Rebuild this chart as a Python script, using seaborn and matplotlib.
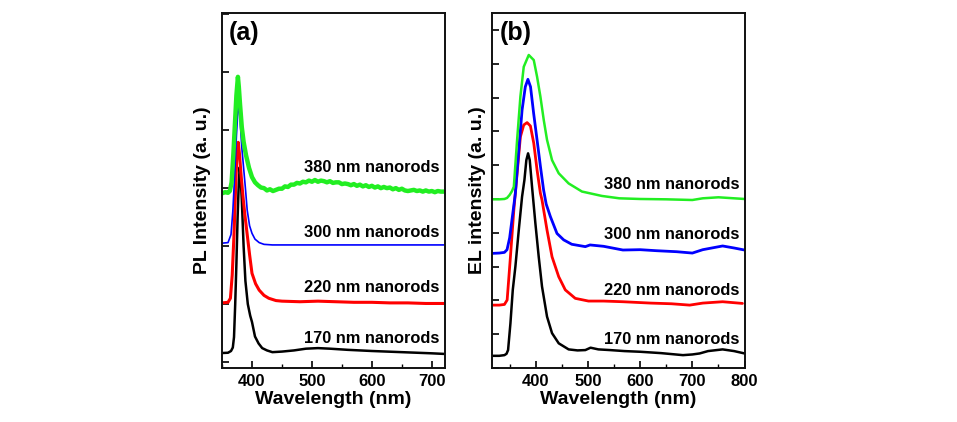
import matplotlib
matplotlib.use("Agg")
import matplotlib.pyplot as plt
import seaborn as sns
from matplotlib.ticker import MultipleLocator

sns.set_style("ticks")
plt.rcParams['font.family'] = ['Liberation Sans', 'DejaVu Sans']
plt.rcParams['font.weight'] = 'bold'
plt.rcParams['text.color'] = 'black'
plt.rcParams['axes.labelcolor'] = 'black'
plt.rcParams['xtick.color'] = 'black'
plt.rcParams['ytick.color'] = 'black'

# ---------------- Panel (a): PL spectra ----------------
pl_black_x = [350, 360, 365, 368, 370, 372, 374, 376, 378, 379.5, 381, 383, 386, 389, 393, 397, 400, 405,
              411, 417, 425, 434, 450, 470, 490, 510, 530, 560, 600, 650, 700, 720]
pl_black_y = [0.155, 0.16, 0.19, 0.25, 0.43, 1.0, 1.7, 2.5, 3.1, 3.36, 3.2, 2.8, 2.0, 1.4, 1.0, 0.8, 0.69, 0.44,
              0.32, 0.24, 0.2, 0.17, 0.18, 0.2, 0.23, 0.24, 0.23, 0.21, 0.19, 0.17, 0.15, 0.14]

pl_red_x = [350, 360, 364, 367, 370, 373, 375, 377, 379, 382, 385, 388, 392, 396, 400, 406, 412, 420, 428,
            440, 450, 480, 510, 540, 570, 600, 630, 660, 690, 720]
pl_red_y = [1.02, 1.03, 1.1, 1.5, 2.2, 3.1, 3.6, 3.79, 3.6, 3.2, 2.85, 2.55, 2.2, 1.85, 1.53, 1.35, 1.24, 1.15, 1.1,
            1.06, 1.05, 1.04, 1.05, 1.04, 1.03, 1.03, 1.02, 1.02, 1.01, 1.01]

pl_blue_x = [350, 360, 365, 368, 371, 374, 377.5, 380, 383, 386, 389, 392, 396, 400, 405, 412, 420, 434, 720]
pl_blue_y = [2.05, 2.06, 2.2, 2.6, 3.2, 3.9, 4.52, 4.2, 3.7, 3.35, 3.0, 2.62, 2.35, 2.22, 2.12, 2.06, 2.03, 2.02, 2.02]

pl_green_x = [350, 355, 360, 363, 366, 369, 372, 374, 376.5, 378, 380, 383, 386, 390, 395, 400, 405, 410, 415,
              420, 425, 430, 435, 440, 445, 450, 455, 460, 465, 470, 475, 480, 485, 490, 495, 500, 505, 510,
              515, 520, 525, 530, 535, 540, 545, 550, 555, 560, 565, 570, 575, 580, 585, 590, 595, 600, 605,
              610, 615, 620, 625, 630, 635, 640, 645, 650, 655, 660, 665, 670, 675, 680, 685, 690, 695, 700,
              705, 710, 715, 720]
pl_green_y = [2.91, 2.93, 2.92, 2.95, 3.1, 3.6, 4.2, 4.6, 4.92, 4.75, 4.45, 4.05, 3.8, 3.57, 3.35, 3.19, 3.1, 3.05, 3.01,
              3.00, 2.96, 2.98, 2.95, 2.97, 2.99, 2.99, 3.03, 3.02, 3.06, 3.06, 3.09, 3.08, 3.11, 3.10, 3.13, 3.11,
              3.14, 3.11, 3.13, 3.12, 3.10, 3.12, 3.09, 3.10, 3.10, 3.07, 3.08, 3.07, 3.05, 3.07, 3.04, 3.06, 3.03,
              3.05, 3.02, 3.04, 3.01, 3.03, 3.00, 3.02, 3.00, 3.01, 2.98, 3.00, 2.97, 2.99, 2.96, 2.95, 2.96, 2.97,
              2.95, 2.96, 2.94, 2.96, 2.94, 2.95, 2.93, 2.95, 2.94, 2.94]

# ---------------- Panel (b): EL spectra ----------------
el_black_x = [316, 330, 340, 344, 347, 351.5, 356, 361, 367.5, 373.8, 378.3, 382, 385.3, 388.5, 392.9, 399.3,
              405.7, 412, 421.6, 431.2, 444, 463, 480, 495, 505, 520, 542, 570, 600, 640, 682, 700, 714, 730,
              758, 780, 800]
el_black_y = [0.36, 0.36, 0.38, 0.42, 0.53, 1.32, 2.31, 3.0, 4.08, 5.07, 5.56, 6.15, 6.35, 6.15, 5.36, 4.28,
              3.29, 2.41, 1.52, 1.03, 0.73, 0.55, 0.52, 0.53, 0.6, 0.55, 0.53, 0.5, 0.48, 0.44, 0.38, 0.4, 0.43, 0.5,
              0.55, 0.5, 0.43]

el_red_x = [316, 330, 340, 345.2, 351.5, 358, 364.3, 370.6, 377, 383.4, 389.8, 396.2, 402.5, 408.9, 412, 421.6,
            431.2, 444, 456.6, 475.7, 501, 530, 567, 620, 660, 695, 720, 758, 796]
el_red_y = [1.86, 1.86, 1.88, 2.01, 3.29, 4.67, 5.76, 6.84, 7.19, 7.26, 7.16, 6.65, 5.86, 5.17, 4.97, 4.08,
            3.29, 2.70, 2.31, 2.06, 1.98, 1.98, 1.96, 1.92, 1.9, 1.86, 1.92, 1.96, 1.91]

el_blue_x = [316, 330, 340, 345, 350, 355, 361, 367.5, 373.8, 380, 385, 390, 396, 402.5, 409, 415, 420, 428,
             440.7, 453.5, 469, 495, 504, 530, 567, 600, 631, 670, 700, 720, 758, 780, 800]
el_blue_y = [3.39, 3.40, 3.42, 3.5, 3.85, 4.45, 5.17, 6.45, 7.63, 8.32, 8.54, 8.32, 7.53, 6.75, 5.96, 5.27, 4.85,
             4.48, 3.98, 3.79, 3.66, 3.59, 3.64, 3.6, 3.49, 3.5, 3.47, 3.44, 3.40, 3.5, 3.61, 3.55, 3.49]

el_green_x = [316, 330, 340, 345, 350, 354, 358, 364.3, 370.6, 377, 386.6, 396.2, 402.5, 408.9, 415.3, 421.6,
              431.2, 444, 463, 488.5, 526.7, 560, 600, 650, 700, 720, 750, 770, 800]
el_green_y = [4.99, 4.99, 5.0, 5.03, 5.12, 5.22, 5.36, 6.75, 8.03, 8.91, 9.26, 9.11, 8.62, 8.03, 7.34, 6.75,
              6.15, 5.76, 5.46, 5.22, 5.09, 5.02, 5.0, 4.99, 4.97, 5.02, 5.05, 5.03, 5.0]

labels = ["380 nm nanorods", "300 nm nanorods", "220 nm nanorods", "170 nm nanorods"]
pl_label_y = [3.36, 2.24, 1.29, 0.41]
el_label_y = [5.44, 3.94, 2.29, 0.83]

GREEN = "#22ee22"
BLUE = "#0000ff"
RED = "#ff0000"
BLACK = "#000000"

fig = plt.figure(figsize=(9.57, 4.22), dpi=100)
ax1 = fig.add_axes([0.232, 0.128, 0.233, 0.841])
ax2 = fig.add_axes([0.514, 0.128, 0.264, 0.841])

kw = dict(estimator=None, sort=False, legend=False)
sns.lineplot(x=pl_black_x, y=pl_black_y, ax=ax1, color=BLACK, lw=1.8, **kw)
sns.lineplot(x=pl_red_x, y=pl_red_y, ax=ax1, color=RED, lw=2.2, **kw)
sns.lineplot(x=pl_blue_x, y=pl_blue_y, ax=ax1, color=BLUE, lw=1.2, **kw)
sns.lineplot(x=pl_green_x, y=pl_green_y, ax=ax1, color=GREEN, lw=3.2, **kw)

sns.lineplot(x=el_black_x, y=el_black_y, ax=ax2, color=BLACK, lw=1.8, **kw)
sns.lineplot(x=el_red_x, y=el_red_y, ax=ax2, color=RED, lw=2.0, **kw)
sns.lineplot(x=el_blue_x, y=el_blue_y, ax=ax2, color=BLUE, lw=2.0, **kw)
sns.lineplot(x=el_green_x, y=el_green_y, ax=ax2, color=GREEN, lw=1.8, **kw)

ax1.set_xlim(350, 722)
ax1.set_ylim(-0.103, 6.02)
ax1.set_yticks(range(0, 7))
ax2.set_xlim(316, 800)
ax2.set_ylim(0, 10.5)
ax2.set_yticks(range(0, 11))

for ax, lab_y, xr, ylab, tag in [(ax1, pl_label_y, 713, "PL Intensity (a. u.)", "(a)"),
                                  (ax2, el_label_y, 790, "EL intensity (a. u.)", "(b)")]:
    ax.xaxis.set_major_locator(MultipleLocator(100))
    ax.xaxis.set_minor_locator(MultipleLocator(50))
    ax.tick_params(axis='both', which='major', direction='in', length=5, width=1.2,
                   labelsize=12, pad=4)
    ax.tick_params(axis='x', which='minor', direction='in', length=3, width=1.0)
    ax.tick_params(axis='y', left=True, right=False, labelleft=False)
    for lab in ax.get_xticklabels():
        lab.set_fontweight('bold')
    for s in ax.spines.values():
        s.set_linewidth(1.4)
        s.set_color('#111111')
    ax.set_xlabel("Wavelength (nm)", fontsize=14, fontweight='bold', labelpad=2)
    ax.set_ylabel(ylab, fontsize=14, fontweight='bold', labelpad=8)
    for t, yy in zip(labels, lab_y):
        ax.text(xr, yy, t, ha='right', va='center', fontsize=11.8, fontweight='bold')
    ax.text(0.03, 0.945, tag, transform=ax.transAxes, ha='left', va='center',
            fontsize=18, fontweight='bold')

ax2.yaxis.labelpad = 4

fig.savefig("out.png", dpi=100)
